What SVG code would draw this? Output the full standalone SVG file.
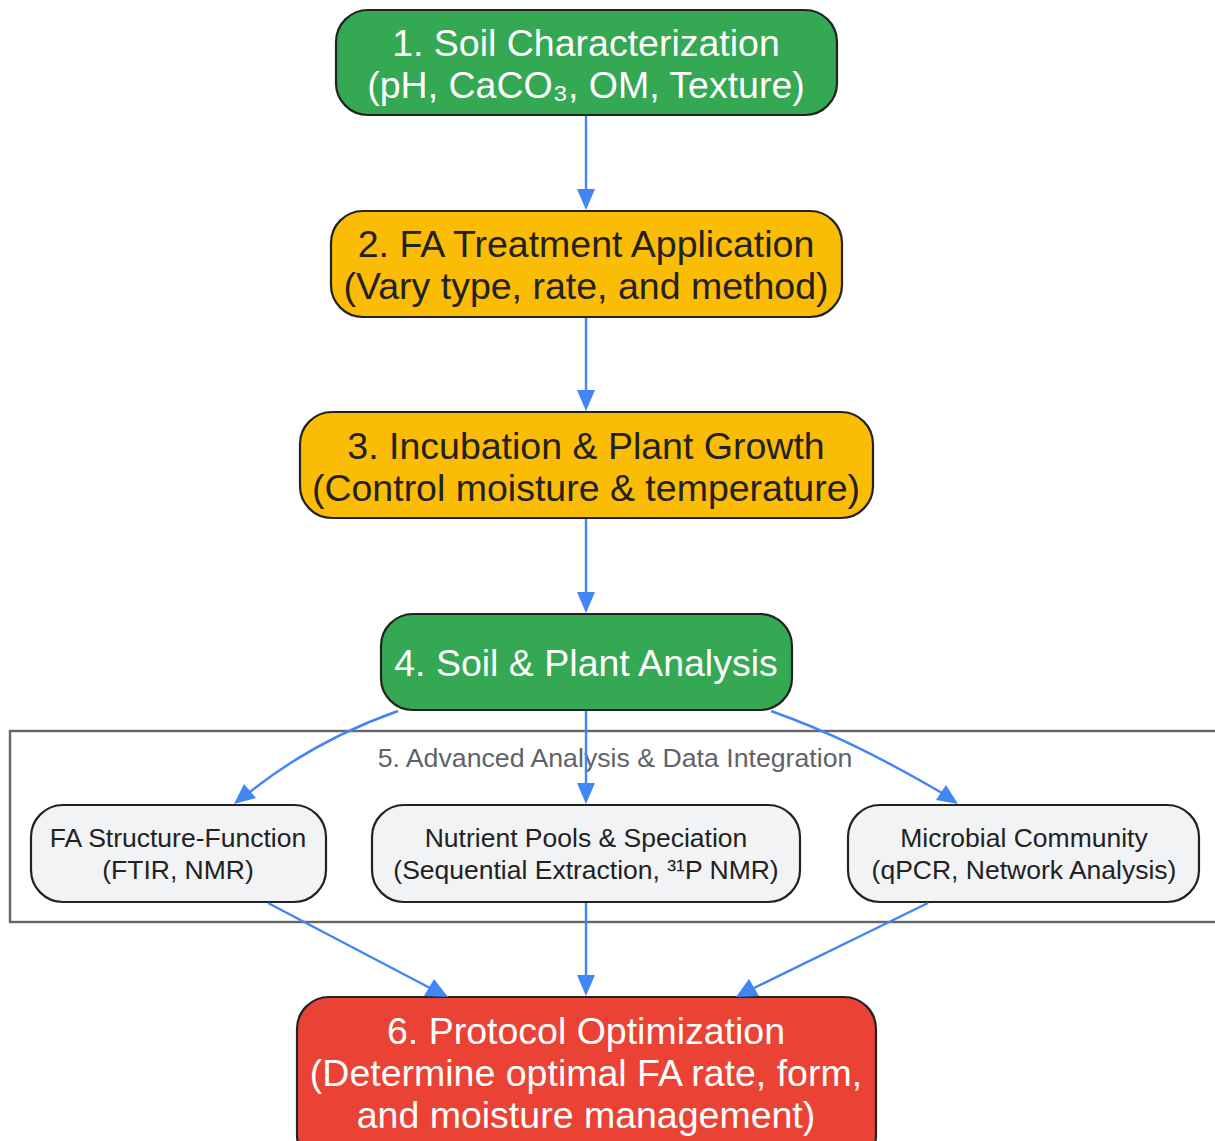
<svg xmlns="http://www.w3.org/2000/svg" width="1215" height="1141" viewBox="0 0 1215 1141">
  <style>
    .node { stroke: #222222; stroke-width: 2.2; }
    .green { fill: #34A853; }
    .yellow { fill: #FBBC05; }
    .red { fill: #EA4335; }
    .grey { fill: #F1F3F4; }
    .big { font-family: "Liberation Sans", Arial, sans-serif; font-size: 37.5px; text-anchor: middle; }
    .small { font-family: "Liberation Sans", Arial, sans-serif; font-size: 26.5px; text-anchor: middle; fill: #222222; }
    .white { fill: #FFFFFF; }
    .dark { fill: #222222; }
    .cluster { fill: #FFFFFF; stroke: #666666; stroke-width: 2.4; }
    .clabel { font-family: "Liberation Sans", Arial, sans-serif; font-size: 26.7px; text-anchor: middle; fill: #5F6368; }
    .head { fill: #4285F4; stroke: none; }
  </style>

  <g id="cluster5">
    <rect class="cluster" x="10" y="731" width="1215" height="191"/>
    <text class="clabel" x="615" y="767">5. Advanced Analysis &amp; Data Integration</text>
  </g>

  <g id="n1">
    <rect class="node green" x="336" y="10" width="501" height="105" rx="32"/>
    <text class="big white" x="586" y="56">1. Soil Characterization</text>
    <text class="big white" x="586" y="98">(pH, CaCO₃, OM, Texture)</text>
  </g>
  <g id="n2">
    <rect class="node yellow" x="331" y="211" width="511" height="106" rx="32"/>
    <text class="big dark" x="586" y="257">2. FA Treatment Application</text>
    <text class="big dark" x="586" y="299">(Vary type, rate, and method)</text>
  </g>
  <g id="n3">
    <rect class="node yellow" x="300" y="412" width="573" height="106" rx="32"/>
    <text class="big dark" x="586" y="459">3. Incubation &amp; Plant Growth</text>
    <text class="big dark" x="586" y="501">(Control moisture &amp; temperature)</text>
  </g>
  <g id="n4">
    <rect class="node green" x="381" y="614" width="411" height="96" rx="32"/>
    <text class="big white" x="586" y="676">4. Soil &amp; Plant Analysis</text>
  </g>
  <g id="n5a">
    <rect class="node grey" x="31" y="805" width="295" height="97" rx="32"/>
    <text class="small" x="178" y="847">FA Structure-Function</text>
    <text class="small" x="178" y="879">(FTIR, NMR)</text>
  </g>
  <g id="n5b">
    <rect class="node grey" x="372" y="805" width="428" height="97" rx="32"/>
    <text class="small" x="586" y="847">Nutrient Pools &amp; Speciation</text>
    <text class="small" x="586" y="879">(Sequential Extraction, ³¹P NMR)</text>
  </g>
  <g id="n5c">
    <rect class="node grey" x="848" y="805" width="351" height="97" rx="32"/>
    <text class="small" x="1024" y="847">Microbial Community</text>
    <text class="small" x="1024" y="879">(qPCR, Network Analysis)</text>
  </g>
  <g id="n6">
    <rect class="node red" x="297" y="997" width="579" height="170" rx="32"/>
    <text class="big white" x="586" y="1044">6. Protocol Optimization</text>
    <text class="big white" x="586" y="1086">(Determine optimal FA rate, form,</text>
    <text class="big white" x="586" y="1128">and moisture management)</text>
  </g>

  <g id="connectors" fill="none" stroke="#4285F4" stroke-width="2.4">
    <path d="M586,116 L586,190" />
    <path class="head" d="M577,189 L586,210 L595,189 z"/>
    <path d="M586,318 L586,391" />
    <path class="head" d="M577,390 L586,411 L595,390 z"/>
    <path d="M586,519 L586,593" />
    <path class="head" d="M577,592 L586,613 L595,592 z"/>

    <path d="M398,711 C350,728 300,752 250,792" />
    <path class="head" d="M244,784 L234,804 L256,798 z"/>
    <path d="M586,711 L586,784" />
    <path class="head" d="M577,783 L586,804 L595,783 z"/>
    <path d="M771,711 C830,732 880,757 942,793" />
    <path class="head" d="M936,800 L958,804 L946,785 z"/>

    <path d="M268,903 L430,988" />
    <path class="head" d="M424,996 L448,997 L434,979 z"/>
    <path d="M586,903 L586,976" />
    <path class="head" d="M577,975 L586,996 L595,975 z"/>
    <path d="M928,903 L754,988" />
    <path class="head" d="M749,979 L736,997 L759,996 z"/>
  </g>
</svg>
